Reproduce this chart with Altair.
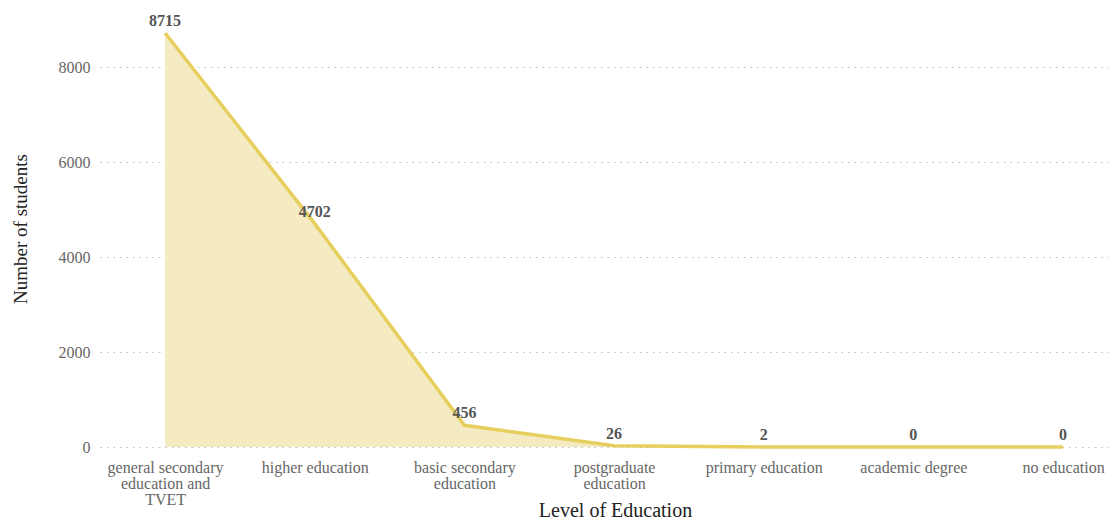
import altair as alt
import pandas as pd

categories = [
    "general secondary|education and|TVET",
    "higher education",
    "basic secondary|education",
    "postgraduate|education",
    "primary education",
    "academic degree",
    "no education",
]
students = [8715, 4702, 456, 26, 2, 0, 0]

df = pd.DataFrame({"level": categories, "students": students})

FONT = "Liberation Serif"
LINE = "#E6CF5E"
FILL = "#F5EBC2"

x = alt.X(
    "level:N",
    sort=categories,
    scale=alt.Scale(type="point", padding=0.371, align=0.586),
    axis=alt.Axis(
        title="Level of Education",
        labelExpr="split(datum.label, '|')",
        labelAngle=0,
        labelFont=FONT,
        labelFontSize=16,
        labelColor="#666666",
        labelPadding=12,
        labelLimit=300,
        labelLineHeight=16,
        titleFont=FONT,
        titleFontSize=20,
        titleFontWeight="normal",
        titleColor="#222222",
        titlePadding=-7,
        titleX=515,
        domain=False,
        ticks=False,
        grid=False,
    ),
)
y = alt.Y(
    "students:Q",
    scale=alt.Scale(domain=[0, 9200], nice=False),
    axis=alt.Axis(
        title="Number of students",
        values=[0, 2000, 4000, 6000, 8000],
        format="d",
        labelFont=FONT,
        labelFontSize=16,
        labelColor="#666666",
        labelPadding=10,
        titleFont=FONT,
        titleFontSize=19,
        titleFontWeight="normal",
        titleColor="#222222",
        titlePadding=28,
        domain=False,
        ticks=False,
        grid=True,
        gridColor="#bdbdbd",
        gridDash=[1.5, 5],
        gridWidth=1.2,
    ),
)

base = alt.Chart(df).encode(x=x, y=y)
area = base.mark_area(color=FILL, opacity=1)
line = base.mark_line(color=LINE, strokeWidth=3.5)
text = base.mark_text(
    dy=-12, font=FONT, fontSize=16, fontWeight="bold", color="#555555"
).encode(text="students:Q")

chart = (
    (area + line + text)
    .properties(
        width=1009,
        height=437,
        autosize=alt.AutoSizeParams(type="none"),
        padding={"left": 100, "top": 10, "right": 0, "bottom": 75},
        background="white",
    )
    .configure_view(stroke=None)
)

chart.save("out.html", embed_options={"renderer": "svg", "actions": False})
